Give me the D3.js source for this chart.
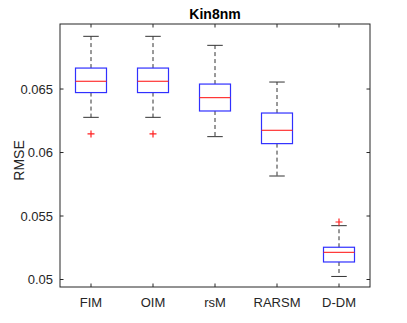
<!DOCTYPE html>
<html>
<head>
<meta charset="utf-8">
<script src="https://cdn.jsdelivr.net/npm/d3@7"></script>
<style>
  body { margin: 0; background: #fff; }
  text { font-family: "Liberation Sans", Arial, sans-serif; fill: #262626; }
</style>
</head>
<body>
<svg id="chart" width="407" height="323"></svg>
<script>
const categories = ['FIM', 'OIM', 'rsM', 'RARSM', 'D-DM'];
const lowerWhisker = [0.06277, 0.06277, 0.06125, 0.05815, 0.05024];
const q1 = [0.06472, 0.06472, 0.06327, 0.0607, 0.05138];
const medians = [0.06561, 0.06561, 0.06432, 0.06175, 0.05214];
const q3 = [0.06665, 0.06665, 0.06539, 0.06311, 0.05254];
const upperWhisker = [0.06915, 0.06915, 0.06844, 0.06555, 0.05424];
const outliers = [[0.06146], [0.06146], [], [], [0.05453]];
const yTicks = [0.05, 0.055, 0.06, 0.065];
const yTickLabels = ['0.05', '0.055', '0.06', '0.065'];

const svg = d3.select('#chart');
const plotL = 60, plotR = 370, plotT = 24, plotB = 287;

const x = d3.scaleLinear().domain([0.5, 5.5]).range([plotL, plotR]);
const y = d3.scaleLinear().domain([0.04941, 0.07012]).range([plotB, plotT]);
const step = x(2) - x(1);
const boxW = step * 0.5;
const capW = step * 0.25;

const boxes = categories.map((c, i) => ({
    name: c, pos: i + 1,
    lo: lowerWhisker[i], q1: q1[i], med: medians[i], q3: q3[i], hi: upperWhisker[i],
    out: outliers[i]
}));

// axes frame
svg.append('rect')
    .attr('x', plotL).attr('y', plotT)
    .attr('width', plotR - plotL).attr('height', plotB - plotT)
    .attr('fill', 'none').attr('stroke', '#262626').attr('stroke-width', 1);

const tickLen = 3.5;
// y ticks both sides
yTicks.forEach((t, i) => {
    const ty = y(t);
    svg.append('line').attr('x1', plotL).attr('x2', plotL + tickLen).attr('y1', ty).attr('y2', ty)
        .attr('stroke', '#262626');
    svg.append('line').attr('x1', plotR).attr('x2', plotR - tickLen).attr('y1', ty).attr('y2', ty)
        .attr('stroke', '#262626');
    svg.append('text').attr('x', plotL - 7).attr('y', ty).attr('dy', '0.35em')
        .attr('text-anchor', 'end').attr('font-size', 13).text(yTickLabels[i]);
});

// x ticks top and bottom
boxes.forEach(b => {
    const tx = x(b.pos);
    svg.append('line').attr('x1', tx).attr('x2', tx).attr('y1', plotB).attr('y2', plotB - tickLen)
        .attr('stroke', '#262626');
    svg.append('line').attr('x1', tx).attr('x2', tx).attr('y1', plotT).attr('y2', plotT + tickLen)
        .attr('stroke', '#262626');
    svg.append('text').attr('x', tx).attr('y', 307)
        .attr('text-anchor', 'middle').attr('font-size', 13).text(b.name);
});

const g = svg.append('g').selectAll('g').data(boxes).join('g');

// whiskers
g.append('line')
    .attr('x1', d => x(d.pos)).attr('x2', d => x(d.pos))
    .attr('y1', d => y(d.q3)).attr('y2', d => y(d.hi))
    .attr('stroke', '#333').attr('stroke-dasharray', '4,3');
g.append('line')
    .attr('x1', d => x(d.pos)).attr('x2', d => x(d.pos))
    .attr('y1', d => y(d.q1)).attr('y2', d => y(d.lo))
    .attr('stroke', '#333').attr('stroke-dasharray', '4,3');
g.append('line')
    .attr('x1', d => x(d.pos) - capW / 2).attr('x2', d => x(d.pos) + capW / 2)
    .attr('y1', d => y(d.hi)).attr('y2', d => y(d.hi))
    .attr('stroke', '#333');
g.append('line')
    .attr('x1', d => x(d.pos) - capW / 2).attr('x2', d => x(d.pos) + capW / 2)
    .attr('y1', d => y(d.lo)).attr('y2', d => y(d.lo))
    .attr('stroke', '#333');

// boxes
g.append('rect')
    .attr('x', d => x(d.pos) - boxW / 2).attr('width', boxW)
    .attr('y', d => y(d.q3)).attr('height', d => y(d.q1) - y(d.q3))
    .attr('fill', 'none').attr('stroke', '#3030ff').attr('stroke-width', 1.2);

// medians
g.append('line')
    .attr('x1', d => x(d.pos) - boxW / 2).attr('x2', d => x(d.pos) + boxW / 2)
    .attr('y1', d => y(d.med)).attr('y2', d => y(d.med))
    .attr('stroke', '#ff2020').attr('stroke-width', 1.1);

// outliers
g.each(function (d) {
    const sel = d3.select(this);
    d.out.forEach(v => {
        const cx = x(d.pos), cy = y(v), s = 3.5;
        sel.append('path')
            .attr('d', `M${cx - s},${cy}H${cx + s}M${cx},${cy - s}V${cy + s}`)
            .attr('stroke', '#ff2020').attr('stroke-width', 1.2).attr('fill', 'none');
    });
});

// title and y label
svg.append('text').attr('x', (plotL + plotR) / 2).attr('y', 19)
    .attr('text-anchor', 'middle').attr('font-size', 14).attr('font-weight', 'bold')
    .style('fill', '#000').text('Kin8nm');

svg.append('text')
    .attr('transform', `translate(24,${(plotT + plotB) / 2 + 5}) rotate(-90)`)
    .attr('text-anchor', 'middle').attr('font-size', 14).text('RMSE');
</script>
</body>
</html>
